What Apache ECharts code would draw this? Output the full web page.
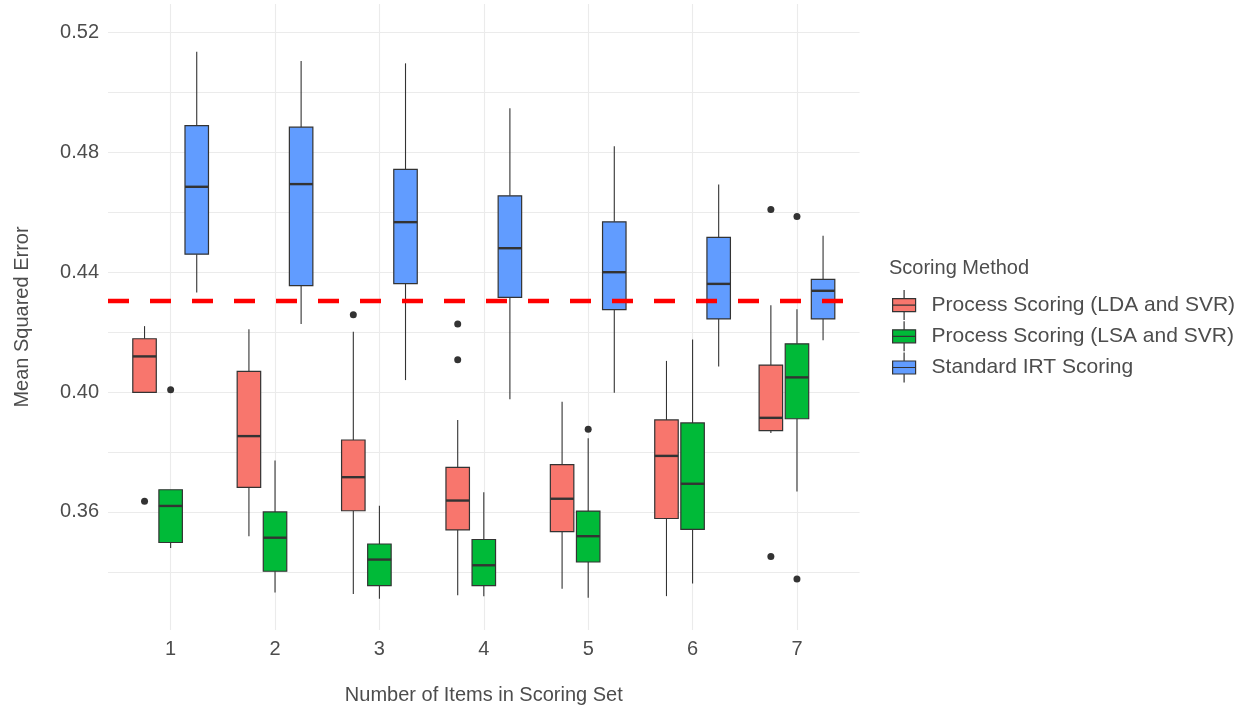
<!DOCTYPE html>
<html>
<head>
<meta charset="utf-8">
<title>Mean Squared Error by Scoring Method</title>
<script src="https://cdn.jsdelivr.net/npm/echarts@6/dist/echarts.min.js"></script>
<style>
  html, body { margin: 0; padding: 0; background: #fff; }
  #chart { width: 1239px; height: 711px; }
</style>
</head>
<body>
<div id="chart"></div>
<script>
// 类别（评分集中的题目数）
const categories = ['1', '2', '3', '4', '5', '6', '7'];
const yTickLabels = ['0.36', '0.40', '0.44', '0.48', '0.52'];

// 每个箱子: [下须, Q1, 中位数, Q3, 上须]
const ldaBoxes = [
  [0.3999, 0.3999, 0.4119, 0.4178, 0.4220],
  [0.3519, 0.3682, 0.3853, 0.4069, 0.4210],
  [0.3326, 0.3604, 0.3716, 0.3840, 0.4201],
  [0.3322, 0.3540, 0.3638, 0.3749, 0.3907],
  [0.3344, 0.3534, 0.3644, 0.3758, 0.3968],
  [0.3319, 0.3578, 0.3787, 0.3907, 0.4104],
  [0.3863, 0.3871, 0.3914, 0.4090, 0.4290]
];
const lsaBoxes = [
  [0.3480, 0.3498, 0.3620, 0.3674, 0.3674],
  [0.3331, 0.3402, 0.3514, 0.3600, 0.3772],
  [0.3310, 0.3354, 0.3441, 0.3493, 0.3621],
  [0.3319, 0.3354, 0.3422, 0.3508, 0.3666],
  [0.3314, 0.3433, 0.3519, 0.3603, 0.3846],
  [0.3361, 0.3542, 0.3694, 0.3897, 0.4175],
  [0.3668, 0.3911, 0.4049, 0.4161, 0.4276]
];
const irtBoxes = [
  [0.4332, 0.4460, 0.4685, 0.4889, 0.5136],
  [0.4227, 0.4355, 0.4694, 0.4884, 0.5105],
  [0.4040, 0.4362, 0.4567, 0.4743, 0.5097],
  [0.3976, 0.4316, 0.4480, 0.4655, 0.4947],
  [0.3998, 0.4275, 0.4400, 0.4568, 0.4820],
  [0.4085, 0.4244, 0.4361, 0.4516, 0.4693],
  [0.4173, 0.4244, 0.4338, 0.4376, 0.4522]
];

// 离群点: [类别序号, 值]
const ldaOutliers = [[1, 0.3636], [3, 0.4258], [4, 0.4227], [4, 0.4108], [7, 0.4609], [7, 0.3451]];
const lsaOutliers = [[1, 0.4008], [5, 0.3876], [7, 0.4586], [7, 0.3376]];
const irtOutliers = [];

// 红色虚线（参考线）
const irtReference = 0.4304;

const FONT = "'Liberation Sans', Arial, sans-serif";
const TEXT_COLOR = '#4d4d4d';
const BOX_WIDTH = 0.225;

const methods = [
  { name: 'Process Scoring (LDA and SVR)', color: '#F8766D', offset: -0.25, boxes: ldaBoxes, outliers: ldaOutliers },
  { name: 'Process Scoring (LSA and SVR)', color: '#00BA38', offset: 0, boxes: lsaBoxes, outliers: lsaOutliers },
  { name: 'Standard IRT Scoring', color: '#619CFF', offset: 0.25, boxes: irtBoxes, outliers: irtOutliers }
];

// 箱线图绘制
function makeBoxRender(color, offset) {
  return function (params, api) {
    const x = api.value(0) + offset;
    const lo = api.coord([x, api.value(1)]);
    const q1 = api.coord([x, api.value(2)]);
    const md = api.coord([x, api.value(3)]);
    const q3 = api.coord([x, api.value(4)]);
    const hi = api.coord([x, api.value(5)]);
    const w = api.size([BOX_WIDTH, 0])[0];
    const cx = lo[0];
    const whisker = { stroke: '#333', lineWidth: 1.1 };
    return {
      type: 'group',
      children: [
        { type: 'line', shape: { x1: cx, y1: hi[1], x2: cx, y2: q3[1] }, style: whisker },
        { type: 'line', shape: { x1: cx, y1: q1[1], x2: cx, y2: lo[1] }, style: whisker },
        { type: 'rect', shape: { x: cx - w / 2, y: q3[1], width: w, height: q1[1] - q3[1] },
          style: { fill: color, stroke: '#333', lineWidth: 1.2 } },
        { type: 'line', shape: { x1: cx - w / 2, y1: md[1], x2: cx + w / 2, y2: md[1] },
          style: { stroke: '#333', lineWidth: 2.4 } }
      ]
    };
  };
}

const series = [];
methods.forEach(function (m) {
  series.push({
    name: m.name,
    type: 'custom',
    itemStyle: { color: m.color },
    renderItem: makeBoxRender(m.color, m.offset),
    encode: { x: 0, y: [1, 2, 3, 4, 5] },
    data: m.boxes.map(function (b, i) { return [i + 1].concat(b); }),
    z: 2
  });
});
methods.forEach(function (m) {
  series.push({
    name: m.name + ' outliers',
    type: 'scatter',
    symbolSize: 7,
    itemStyle: { color: '#333', opacity: 1 },
    data: m.outliers.map(function (o) { return [o[0] + m.offset, o[1]]; }),
    z: 3
  });
});
series.push({
  name: 'reference',
  type: 'line',
  symbol: 'none',
  lineStyle: { color: '#ff0000', width: 4.5, type: [21, 21] },
  data: [[0.4, irtReference], [7.6, irtReference]],
  z: 5
});

const chart = echarts.init(document.getElementById('chart'));
const option = {
  animation: false,
  backgroundColor: '#fff',
  title: {
    text: 'Scoring Method',
    left: 889,
    top: 258,
    padding: 0,
    textStyle: { fontSize: 20, fontWeight: 'normal', color: TEXT_COLOR, fontFamily: FONT }
  },
  legend: {
    orient: 'vertical',
    left: 892,
    top: 289.5,
    padding: 0,
    itemGap: 0,
    itemWidth: 23,
    itemHeight: 30,
    icon: 'path://M0,8.5 L23,8.5 L23,21.5 L0,21.5 Z M0,15 L23,15 M11.5,0 L11.5,8.5 M11.5,21.5 L11.5,30',
    selectedMode: false,
    textStyle: { fontSize: 21, color: TEXT_COLOR, fontFamily: FONT, padding: [0, 0, 0, 11] },
    data: methods.map(function (m) {
      return { name: m.name, itemStyle: { color: m.color, borderColor: '#333', borderWidth: 1.2 } };
    })
  },
  grid: { left: 108, right: 379.4, top: 4, bottom: 81 },
  xAxis: {
    type: 'value',
    min: 0.4,
    max: 7.6,
    minInterval: 1,
    maxInterval: 1,
    name: 'Number of Items in Scoring Set',
    nameLocation: 'middle',
    nameGap: 55,
    nameTextStyle: { fontSize: 20, color: TEXT_COLOR, fontFamily: FONT },
    axisLine: { show: false },
    axisTick: { show: false },
    axisLabel: {
      fontSize: 20, color: TEXT_COLOR, fontFamily: FONT, margin: 9,
      showMinLabel: false, showMaxLabel: false,
      formatter: function (v) {
        return Number.isInteger(v) ? categories[v - 1] : '';
      }
    },
    splitLine: { show: true, showMinLine: false, showMaxLine: false, lineStyle: { color: '#ebebeb', width: 1.1 } }
  },
  yAxis: {
    type: 'value',
    min: 0.3206,
    max: 0.5295,
    minInterval: 0.02,
    maxInterval: 0.02,
    name: 'Mean Squared Error',
    nameLocation: 'middle',
    nameGap: 76,
    nameTextStyle: { fontSize: 20, color: TEXT_COLOR, fontFamily: FONT },
    axisLine: { show: false },
    axisTick: { show: false },
    axisLabel: {
      fontSize: 20, color: TEXT_COLOR, fontFamily: FONT, margin: 9,
      showMinLabel: false, showMaxLabel: false,
      formatter: function (v) {
        const s = v.toFixed(2);
        return yTickLabels.indexOf(s) >= 0 ? s : '';
      }
    },
    splitLine: { show: true, showMinLine: false, showMaxLine: false, lineStyle: { color: '#ebebeb', width: 1.1 } }
  },
  series: series
};
chart.setOption(option);
</script>
</body>
</html>
